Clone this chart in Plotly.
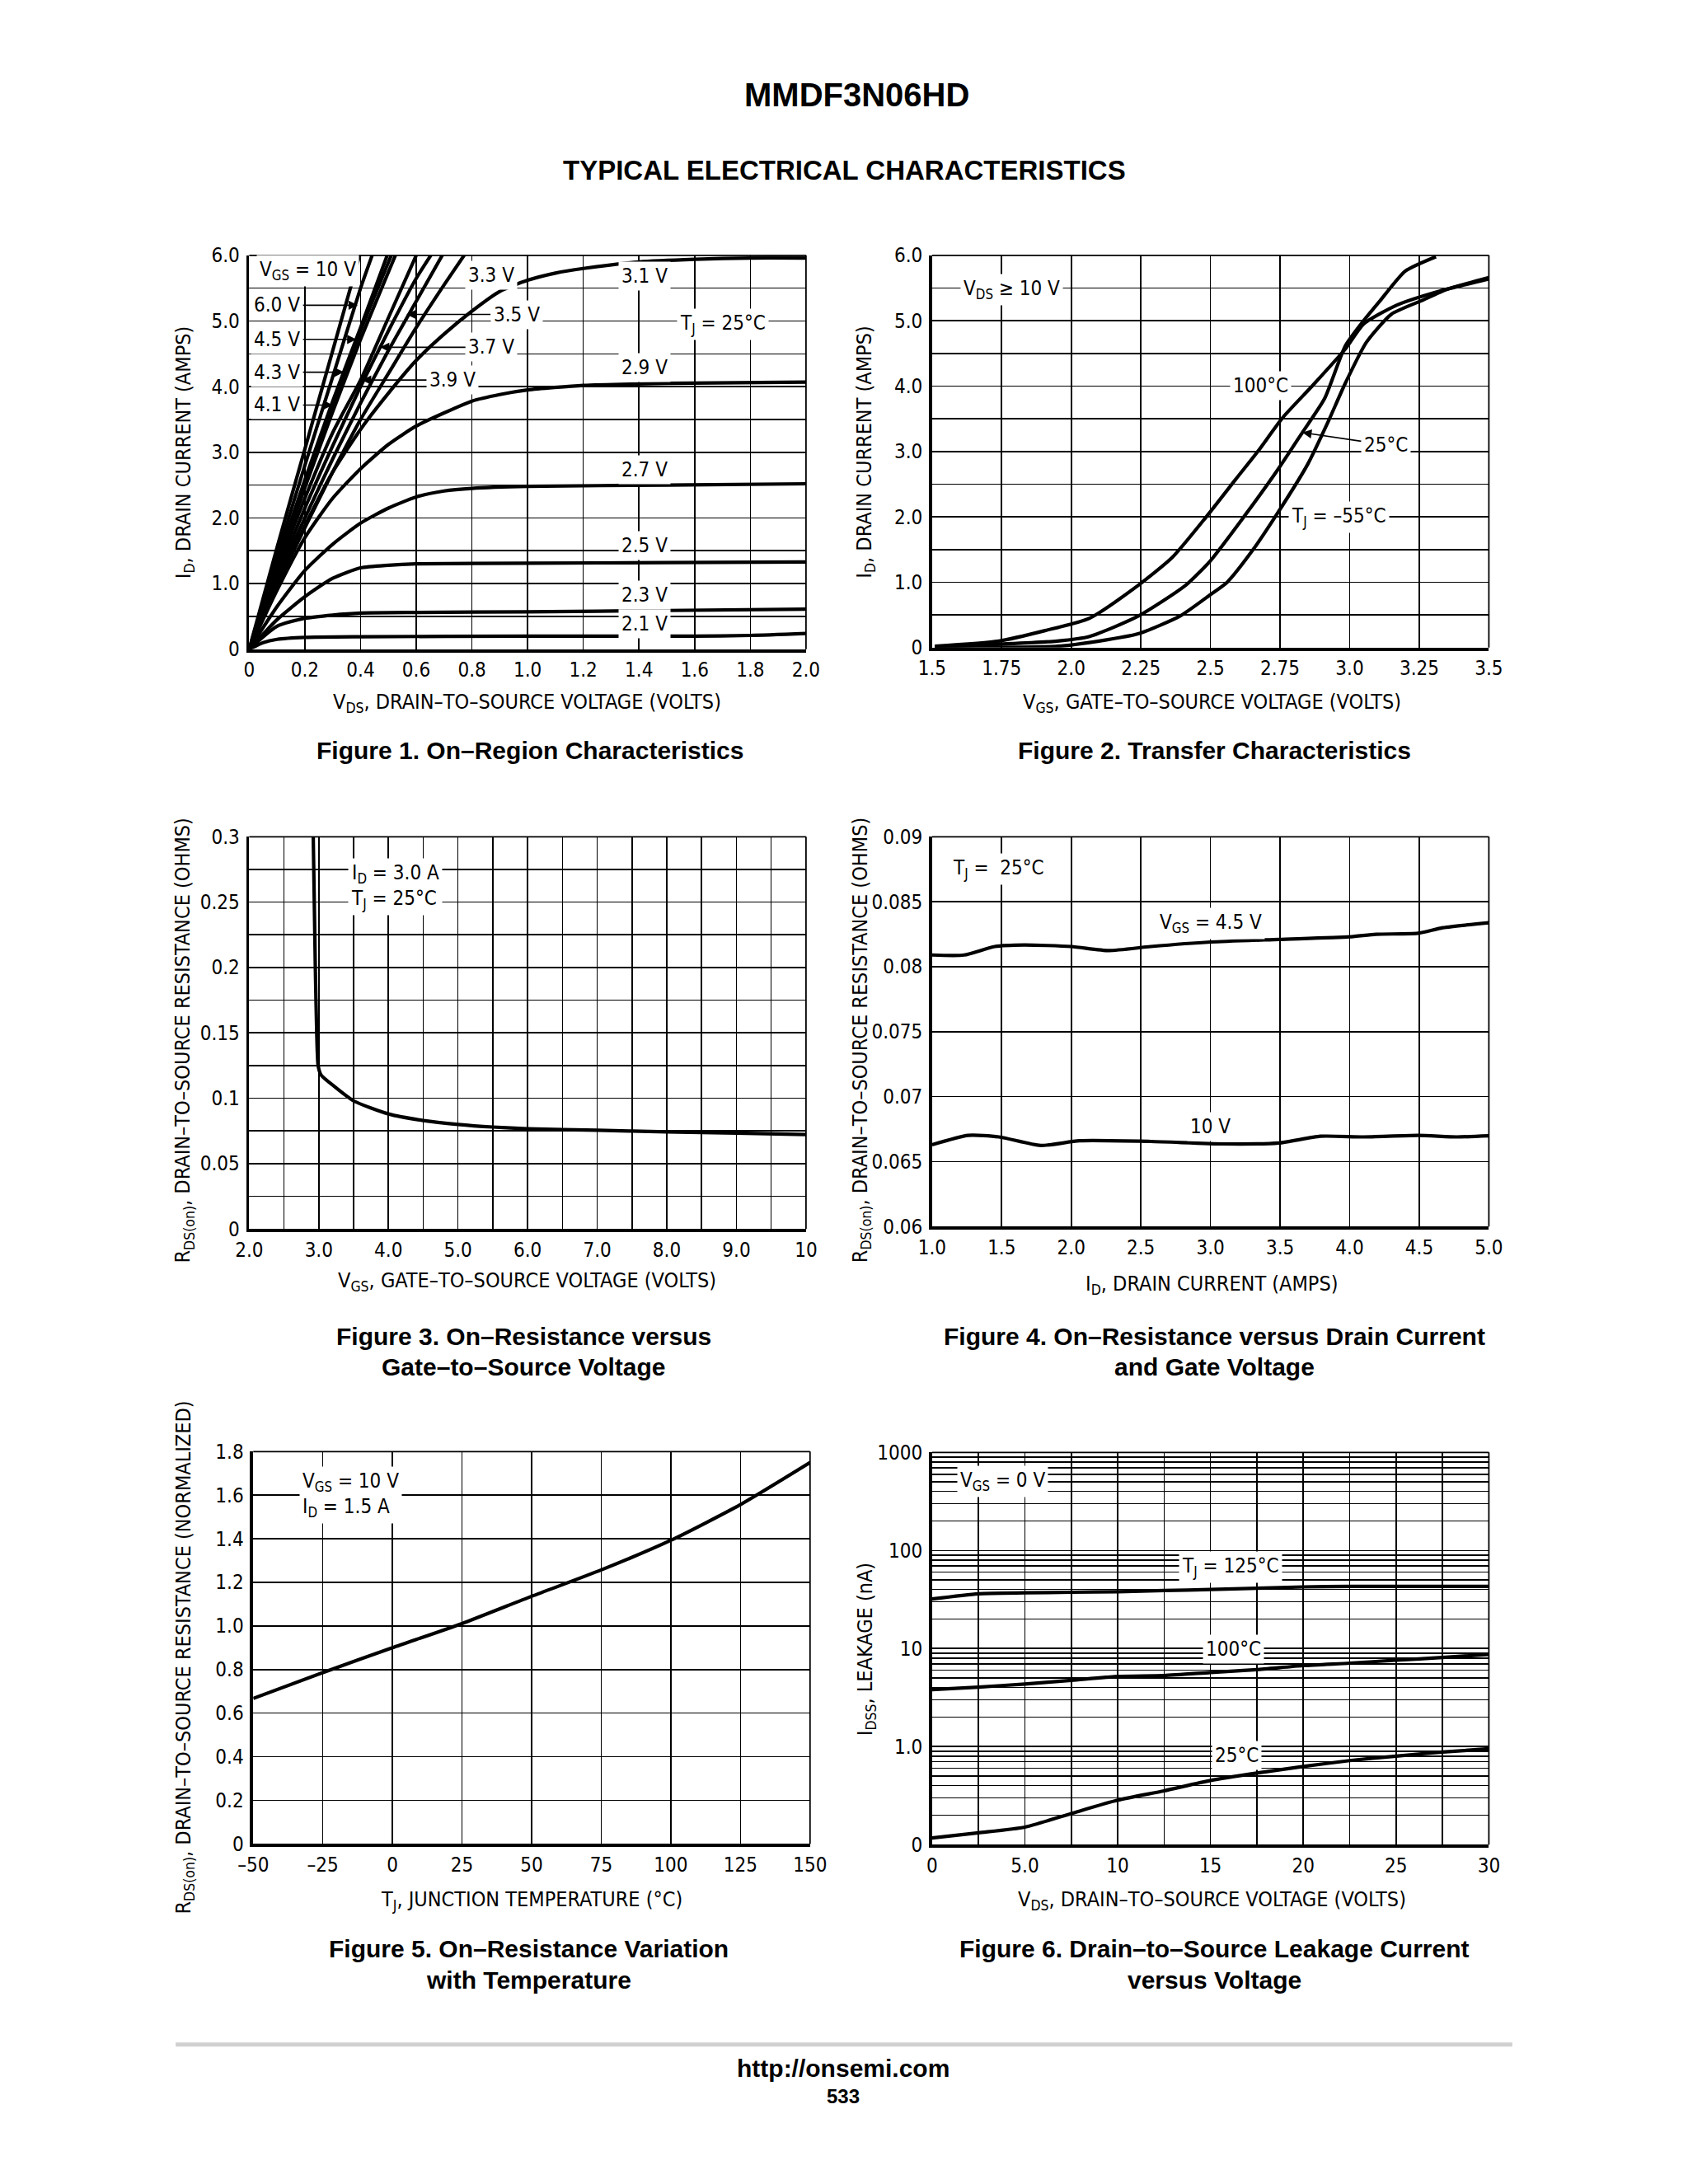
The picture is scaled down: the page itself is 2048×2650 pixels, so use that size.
import math
import plotly.graph_objects as go

W, H = 2048, 2650
FONT = "Liberation Sans Narrow, DejaVu Sans Condensed, Arial Narrow, Liberation Sans, sans-serif"
BOLD = "Liberation Sans, Arial, Helvetica, sans-serif"

# ---------------- Figure 1 data: On-Region Characteristics ----------------
f1_vds_10v = [0, 0.1, 0.2, 0.3, 0.4]
f1_id_10v = [0, 1.55, 3.05, 4.55, 6.05]
f1_vds_6v = [0, 0.1, 0.2, 0.3, 0.4, 0.45]
f1_id_6v = [0, 1.42, 2.8, 4.15, 5.5, 6.1]
f1_vds_45v = [0, 0.1, 0.2, 0.3, 0.4, 0.5]
f1_id_45v = [0, 1.32, 2.58, 3.78, 4.9, 6.05]
f1_vds_43v = [0, 0.1, 0.2, 0.3, 0.4, 0.52]
f1_id_43v = [0, 1.3, 2.52, 3.7, 4.85, 6.1]
f1_vds_41v = [0, 0.1, 0.2, 0.3, 0.4, 0.53]
f1_id_41v = [0, 1.26, 2.46, 3.62, 4.72, 6.05]
f1_vds_39v = [0, 0.1, 0.2, 0.3, 0.4, 0.5, 0.6]
f1_id_39v = [0, 1.2, 2.3, 3.3, 4.1, 5.05, 6.0]
f1_vds_37v = [0, 0.1, 0.2, 0.3, 0.4, 0.5, 0.6, 0.66]
f1_id_37v = [0, 1.12, 2.15, 3.1, 4.0, 4.85, 5.65, 6.05]
f1_vds_35v = [0, 0.1, 0.2, 0.3, 0.4, 0.5, 0.6, 0.7]
f1_id_35v = [0, 1.05, 2.0, 2.9, 3.75, 4.55, 5.3, 6.05]
f1_vds_33v = [0, 0.1, 0.2, 0.3, 0.4, 0.5, 0.6, 0.7, 0.78]
f1_id_33v = [0, 0.97, 1.85, 2.7, 3.5, 4.2, 4.9, 5.55, 6.05]
f1_vds_31v = [0, 0.1, 0.2, 0.3, 0.4, 0.5, 0.6, 0.7, 0.8, 0.9, 1.0, 1.1, 1.2, 1.4, 1.6, 1.8, 2.0]
f1_id_31v = [0, 0.98, 1.88, 2.7, 3.35, 3.9, 4.4, 4.8, 5.15, 5.45, 5.62, 5.73, 5.8, 5.9, 5.94, 5.96, 5.96]
f1_vds_29v = [0, 0.1, 0.2, 0.3, 0.4, 0.5, 0.6, 0.7, 0.8, 0.9, 1.0, 1.2, 1.5, 2.0]
f1_id_29v = [0, 0.9, 1.7, 2.3, 2.75, 3.12, 3.4, 3.6, 3.78, 3.88, 3.95, 4.02, 4.05, 4.07]
f1_vds_27v = [0, 0.1, 0.2, 0.3, 0.4, 0.5, 0.6, 0.7, 0.8, 1.0, 1.5, 2.0]
f1_id_27v = [0, 0.65, 1.2, 1.6, 1.92, 2.15, 2.32, 2.41, 2.45, 2.48, 2.5, 2.52]
f1_vds_25v = [0, 0.1, 0.2, 0.3, 0.4, 0.5, 0.6, 1.0, 1.5, 2.0]
f1_id_25v = [0, 0.45, 0.8, 1.08, 1.24, 1.28, 1.3, 1.31, 1.32, 1.33]
f1_vds_23v = [0, 0.1, 0.2, 0.3, 0.4, 0.6, 1.0, 1.5, 2.0]
f1_id_23v = [0, 0.35, 0.47, 0.52, 0.55, 0.56, 0.57, 0.59, 0.61]
f1_vds_21v = [0, 0.05, 0.1, 0.2, 0.4, 1.0, 1.6, 1.8, 2.0]
f1_id_21v = [0, 0.1, 0.15, 0.18, 0.19, 0.2, 0.2, 0.21, 0.24]

# ---------------- Figure 2 data: Transfer Characteristics ----------------
f2_vgs_100c = [1.51, 1.74, 1.906, 2.066, 2.24, 2.363, 2.485, 2.59, 2.67, 2.76, 2.865, 2.985, 3.05, 3.17, 3.32, 3.5]
f2_id_100c = [0.02, 0.1, 0.26, 0.45, 0.95, 1.38, 2.0, 2.57, 3.0, 3.52, 4.0, 4.57, 4.95, 5.24, 5.45, 5.64]
f2_vgs_25c = [1.51, 1.95, 2.066, 2.24, 2.41, 2.5, 2.62, 2.74, 2.83, 2.91, 2.985, 3.05, 3.11, 3.2, 3.31]
f2_id_25c = [0.01, 0.1, 0.17, 0.48, 0.95, 1.33, 2.0, 2.71, 3.29, 3.81, 4.62, 5.0, 5.31, 5.76, 5.98]
f2_vgs_m55c = [1.51, 1.95, 2.1, 2.24, 2.39, 2.5, 2.56, 2.65, 2.74, 2.85, 2.92, 2.985, 3.06, 3.15, 3.26, 3.35, 3.5]
f2_id_m55c = [0.0, 0.02, 0.1, 0.21, 0.48, 0.81, 1.0, 1.48, 2.05, 2.81, 3.43, 4.05, 4.67, 5.1, 5.31, 5.48, 5.66]

# ---------------- Figure 3 data: On-Resistance vs Gate-Source Voltage ----------------
f3_vgs = [2.92, 2.95, 2.97, 2.99, 3.03, 3.2, 3.5, 4.0, 4.5, 5.0, 5.5, 6.0, 7.0, 8.0, 9.0, 10.0]
f3_rds = [0.30, 0.2, 0.15, 0.125, 0.118, 0.11, 0.098, 0.088, 0.083, 0.080, 0.078, 0.0767, 0.0755, 0.0743, 0.0733, 0.0722]

# ---------------- Figure 4 data: On-Resistance vs Drain Current ----------------
f4_id_45v = [1.0, 1.23, 1.45, 1.66, 2.0, 2.27, 2.57, 3.0, 3.49, 4.0, 4.19, 4.49, 4.67, 5.0]
f4_rds_45v = [0.0809, 0.0809, 0.08155, 0.08167, 0.08155, 0.08124, 0.08155, 0.0819, 0.0821, 0.0823, 0.0825, 0.08257, 0.0830, 0.08338]
f4_id_10v = [1.0, 1.26, 1.48, 1.78, 2.06, 2.57, 3.09, 3.49, 3.79, 4.1, 4.49, 4.77, 5.0]
f4_rds_10v = [0.0663, 0.06702, 0.0669, 0.06624, 0.0666, 0.06655, 0.06636, 0.06643, 0.06695, 0.0669, 0.06702, 0.0669, 0.06698]

# ---------------- Figure 5 data: On-Resistance vs Temperature ----------------
f5_tj = [-50, -25, 0, 25, 50, 75, 100, 125, 150]
f5_rds = [0.667, 0.786, 0.9, 1.011, 1.136, 1.257, 1.393, 1.557, 1.75]

# ---------------- Figure 6 data: Drain-Source Leakage ----------------
f6_vds = [0, 2.5, 5, 7.5, 10, 12.5, 15, 17.5, 20, 22.5, 25, 27.5, 30]
f6_idss_125c = [32, 36.2, 37, 37.5, 38, 39, 40, 41.2, 42.5, 43, 43, 43, 43]
f6_idss_100c = [3.81, 4.04, 4.35, 4.74, 5.2, 5.3, 5.7, 6.1, 6.7, 7.1, 7.6, 8.1, 8.7]
f6_idss_25c = [0.117, 0.132, 0.151, 0.208, 0.284, 0.354, 0.451, 0.537, 0.627, 0.72, 0.80, 0.88, 0.95]

# ---------------- Tick labels (labelled ticks) and extra grid positions ----------------
f1_xticks = [0, 0.2, 0.4, 0.6, 0.8, 1.0, 1.2, 1.4, 1.6, 1.8, 2.0]
f1_xlabels = ["0", "0.2", "0.4", "0.6", "0.8", "1.0", "1.2", "1.4", "1.6", "1.8", "2.0"]
f1_yticks = [0, 1, 2, 3, 4, 5, 6]
f1_ylabels = ["0", "1.0", "2.0", "3.0", "4.0", "5.0", "6.0"]
f1_ygrid = [0.5, 1.5, 2.5, 3.5, 4.5, 5.5]
f2_xticks = [1.5, 1.75, 2.0, 2.25, 2.5, 2.75, 3.0, 3.25, 3.5]
f2_xlabels = ["1.5", "1.75", "2.0", "2.25", "2.5", "2.75", "3.0", "3.25", "3.5"]
f3_xticks = [2, 3, 4, 5, 6, 7, 8, 9, 10]
f3_xlabels = ["2.0", "3.0", "4.0", "5.0", "6.0", "7.0", "8.0", "9.0", "10"]
f3_xgrid = [2.5, 3.5, 4.5, 5.5, 6.5, 7.5, 8.5, 9.5]
f3_yticks = [0, 0.05, 0.1, 0.15, 0.2, 0.25, 0.3]
f3_ylabels = ["0", "0.05", "0.1", "0.15", "0.2", "0.25", "0.3"]
f3_ygrid = [0.025, 0.075, 0.125, 0.175, 0.225, 0.275]
f4_xticks = [1.0, 1.5, 2.0, 2.5, 3.0, 3.5, 4.0, 4.5, 5.0]
f4_xlabels = ["1.0", "1.5", "2.0", "2.5", "3.0", "3.5", "4.0", "4.5", "5.0"]
f4_yticks = [0.06, 0.065, 0.07, 0.075, 0.08, 0.085, 0.09]
f4_ylabels = ["0.06", "0.065", "0.07", "0.075", "0.08", "0.085", "0.09"]
f5_xticks = [-50, -25, 0, 25, 50, 75, 100, 125, 150]
f5_xlabels = ["\u201350", "\u201325", "0", "25", "50", "75", "100", "125", "150"]
f5_yticks = [0, 0.2, 0.4, 0.6, 0.8, 1.0, 1.2, 1.4, 1.6, 1.8]
f5_ylabels = ["0", "0.2", "0.4", "0.6", "0.8", "1.0", "1.2", "1.4", "1.6", "1.8"]
f6_xticks = [0, 5, 10, 15, 20, 25, 30]
f6_xlabels = ["0", "5.0", "10", "15", "20", "25", "30"]
f6_xgrid = [2.5, 7.5, 12.5, 17.5, 22.5, 27.5]
f6_yticks = [0.1, 1, 10, 100, 1000]
f6_ylabels = ["0", "1.0", "10", "100", "1000"]
f6_minor_multipliers = [2, 3, 4, 5, 6, 7, 8, 9]

# ---------------- layout helpers ----------------
def px(x):
    return x / W

def py(y):
    return 1 - y / H

def sid(i):
    return "" if i == 1 else str(i)

# plot boxes (left, top, right, bottom) in page pixels
boxes = {
    1: (289, 299, 978, 782),
    2: (1134, 299, 1823, 780),
    3: (289, 1012, 978, 1493),
    4: (1134, 1012, 1823, 1490),
    5: (294, 1766, 983, 2247),
    6: (1134, 1767, 1823, 2248),
}

fig = go.Figure()
LW = 4.2

def add_curve(i, xs, ys):
    fig.add_trace(go.Scatter(
        x=xs, y=ys, mode="lines", xaxis="x" + sid(i), yaxis="y" + sid(i),
        line=dict(color="black", width=LW, shape="spline", smoothing=0.6),
        showlegend=False, hoverinfo="skip"))

for xs, ys in [(f1_vds_10v, f1_id_10v), (f1_vds_6v, f1_id_6v), (f1_vds_45v, f1_id_45v),
               (f1_vds_43v, f1_id_43v), (f1_vds_41v, f1_id_41v), (f1_vds_39v, f1_id_39v),
               (f1_vds_37v, f1_id_37v), (f1_vds_35v, f1_id_35v), (f1_vds_33v, f1_id_33v),
               (f1_vds_31v, f1_id_31v), (f1_vds_29v, f1_id_29v), (f1_vds_27v, f1_id_27v),
               (f1_vds_25v, f1_id_25v), (f1_vds_23v, f1_id_23v), (f1_vds_21v, f1_id_21v)]:
    add_curve(1, xs, ys)
for xs, ys in [(f2_vgs_100c, f2_id_100c), (f2_vgs_25c, f2_id_25c), (f2_vgs_m55c, f2_id_m55c)]:
    add_curve(2, xs, ys)
add_curve(3, f3_vgs, f3_rds)
add_curve(4, f4_id_45v, f4_rds_45v)
add_curve(4, f4_id_10v, f4_rds_10v)
add_curve(5, f5_tj, f5_rds)
for ys in [f6_idss_125c, f6_idss_100c, f6_idss_25c]:
    add_curve(6, f6_vds, ys)

f6_ygrid = [d * m for d in f6_yticks[:-1] for m in f6_minor_multipliers]

axes_spec = {
    1: dict(xr=[0, 2.0], yr=[0, 6.0], xt=(f1_xticks, f1_xlabels), yt=(f1_yticks, f1_ylabels), yg=f1_ygrid),
    2: dict(xr=[1.5, 3.5], yr=[0, 6.0], xt=(f2_xticks, f2_xlabels), yt=(f1_yticks, f1_ylabels), yg=f1_ygrid),
    3: dict(xr=[2, 10], yr=[0, 0.3], xt=(f3_xticks, f3_xlabels), yt=(f3_yticks, f3_ylabels), xg=f3_xgrid, yg=f3_ygrid),
    4: dict(xr=[1.0, 5.0], yr=[0.06, 0.09], xt=(f4_xticks, f4_xlabels), yt=(f4_yticks, f4_ylabels)),
    5: dict(xr=[-50, 150], yr=[0, 1.8], xt=(f5_xticks, f5_xlabels), yt=(f5_yticks, f5_ylabels)),
    6: dict(xr=[0, 30], yr=[-1, 3], xt=(f6_xticks, f6_xlabels), yt=(f6_yticks, f6_ylabels), xg=f6_xgrid, yg=f6_ygrid, ylog=True),
}

GRID_W = 1.6
tickfont = dict(family=FONT, size=24, color="black")
layout = dict(width=W, height=H, margin=dict(l=0, r=0, t=0, b=0),
              paper_bgcolor="white", plot_bgcolor="white", showlegend=False)
shapes = []

def minor(vals):
    return dict(tickmode="array", tickvals=vals, showgrid=True, gridcolor="black",
                gridwidth=GRID_W, ticks="")

for i, spec in axes_spec.items():
    l, t, r, b = boxes[i]
    s = sid(i)
    xa = dict(domain=[px(l), px(r)], range=spec["xr"], anchor="y" + s,
              tickmode="array", tickvals=spec["xt"][0], ticktext=spec["xt"][1],
              showgrid=True, gridcolor="black", gridwidth=GRID_W, zeroline=False,
              showline=True, linecolor="black", linewidth=3.8, ticks="",
              ticklabelstandoff=1, tickfont=tickfont, fixedrange=True)
    ya = dict(domain=[py(b), py(t)], range=spec["yr"], anchor="x" + s,
              tickmode="array", tickvals=spec["yt"][0], ticktext=spec["yt"][1],
              showgrid=True, gridcolor="black", gridwidth=GRID_W, zeroline=False,
              showline=True, linecolor="black", linewidth=3.8, ticks="",
              ticklabelstandoff=3, tickfont=tickfont, fixedrange=True)
    if "xg" in spec:
        xa["minor"] = minor(spec["xg"])
    if "yg" in spec:
        ya["minor"] = minor(spec["yg"])
    if spec.get("ylog"):
        ya["type"] = "log"
    layout["xaxis" + s] = xa
    layout["yaxis" + s] = ya
    shapes.append(dict(type="line", xref="x" + s + " domain", yref="y" + s + " domain",
                       x0=0, x1=1, y0=1, y1=1, line=dict(color="black", width=1.8)))
    shapes.append(dict(type="line", xref="x" + s + " domain", yref="y" + s + " domain",
                       x0=1, x1=1, y0=0, y1=1, line=dict(color="black", width=1.8)))

# footer rule
shapes.append(dict(type="line", xref="paper", yref="paper", x0=px(198), x1=px(1852),
                   y0=py(2493), y1=py(2493), line=dict(color="#d0d0d0", width=5)))
layout["shapes"] = shapes

ann = []
LF = dict(family=FONT, size=24, color="black")

def lab(i, text, x, y, tip=None, font=LF, align="center"):
    s = sid(i)
    d = dict(text=text, xref="x" + s, yref="y" + s, font=font, bgcolor="white",
             borderpad=3, align=align)
    if tip is None:
        d.update(x=x, y=y, showarrow=False)
    else:
        d.update(x=tip[0], y=tip[1], ax=x, ay=y, axref="x" + s, ayref="y" + s,
                 showarrow=True, arrowhead=2, arrowsize=1.4, arrowwidth=1.6,
                 arrowcolor="black", standoff=0, startstandoff=0)
    ann.append(d)

# Figure 1 labels
lab(1, "V<sub>GS</sub> = 10 V", 0.21, 5.76)
lab(1, "6.0 V", 0.1, 5.24, tip=(0.39, 5.24))
lab(1, "4.5 V", 0.1, 4.72, tip=(0.385, 4.72))
lab(1, "4.3 V", 0.1, 4.22, tip=(0.34, 4.22))
lab(1, "4.1 V", 0.1, 3.72, tip=(0.30, 3.72))
lab(1, "3.3 V", 0.87, 5.7)
lab(1, "3.5 V", 0.96, 5.1, tip=(0.565, 5.1))
lab(1, "3.7 V", 0.87, 4.6, tip=(0.47, 4.6))
lab(1, "3.9 V", 0.73, 4.1, tip=(0.405, 4.1))
lab(1, "3.1 V", 1.42, 5.68)
lab(1, "2.9 V", 1.42, 4.29)
lab(1, "2.7 V", 1.42, 2.74)
lab(1, "2.5 V", 1.42, 1.58)
lab(1, "2.3 V", 1.42, 0.83)
lab(1, "2.1 V", 1.42, 0.38)
lab(1, "T<sub>J</sub> = 25\u00b0C", 1.70, 4.95)
# Figure 2 labels
lab(2, "V<sub>DS</sub> \u2265 10 V", 1.785, 5.48)
lab(2, "100\u00b0C", 2.68, 4.0)
lab(2, "25\u00b0C", 3.13, 3.1, tip=(2.83, 3.29))
lab(2, "T<sub>J</sub> = \u201355\u00b0C", 2.96, 2.0)
# Figure 3 labels
lab(3, "I<sub>D</sub> = 3.0 A<br>T<sub>J</sub> = 25\u00b0C", 4.1, 0.262, align="left")
# Figure 4 labels
lab(4, "T<sub>J</sub> =  25\u00b0C", 1.48, 0.0875)
lab(4, "V<sub>GS</sub> = 4.5 V", 3.0, 0.0833)
lab(4, "10 V", 3.0, 0.0677)
# Figure 5 labels
lab(5, "V<sub>GS</sub> = 10 V<br>I<sub>D</sub> = 1.5 A", -15, 1.6, align="left")
# Figure 6 labels (log axis -> log10 positions)
lab(6, "V<sub>GS</sub> = 0 V", 3.8, math.log10(510))
lab(6, "T<sub>J</sub> = 125\u00b0C", 16.1, math.log10(68))
lab(6, "100\u00b0C", 16.25, math.log10(9.9))
lab(6, "25\u00b0C", 16.4, math.log10(0.82))

AF = dict(family=FONT, size=25, color="black")

def page_text(text, x, y, font, angle=0):
    ann.append(dict(text=text, xref="paper", yref="paper", x=px(x), y=py(y),
                    xanchor="center", yanchor="middle", showarrow=False,
                    font=font, textangle=angle))

# axis titles
page_text("V<sub>DS</sub>, DRAIN\u2013TO\u2013SOURCE VOLTAGE (VOLTS)", 633, 848, AF)
page_text("V<sub>GS</sub>, GATE\u2013TO\u2013SOURCE VOLTAGE (VOLTS)", 1480, 848, AF)
page_text("V<sub>GS</sub>, GATE\u2013TO\u2013SOURCE VOLTAGE (VOLTS)", 633, 1557, AF)
page_text("I<sub>D</sub>, DRAIN CURRENT (AMPS)", 1480, 1562, AF)
page_text("T<sub>J</sub>, JUNCTION TEMPERATURE (\u00b0C)", 638, 2316, AF)
page_text("V<sub>DS</sub>, DRAIN\u2013TO\u2013SOURCE VOLTAGE (VOLTS)", 1480, 2316, AF)
page_text("I<sub>D</sub>, DRAIN CURRENT (AMPS)", 209, 540, AF, -90)
page_text("I<sub>D</sub>, DRAIN CURRENT (AMPS)", 1052, 540, AF, -90)
page_text("R<sub>DS(on)</sub>, DRAIN\u2013TO\u2013SOURCE RESISTANCE (OHMS)", 208, 1262, AF, -90)
page_text("R<sub>DS(on)</sub>, DRAIN\u2013TO\u2013SOURCE RESISTANCE (OHMS)", 1046, 1262, AF, -90)
page_text("R<sub>DS(on)</sub>, DRAIN\u2013TO\u2013SOURCE RESISTANCE (NORMALIZED)", 209, 2018, AF, -90)
page_text("I<sub>DSS</sub>, LEAKAGE (nA)", 1052, 2008, AF, -90)

# captions
CF = dict(family=BOLD, size=30, color="black", weight="bold")
page_text("Figure 1. On\u2013Region Characteristics", 636, 906, CF)
page_text("Figure 2. Transfer Characteristics", 1483, 906, CF)
page_text("Figure 3. On\u2013Resistance versus", 629, 1625, CF)
page_text("Gate\u2013to\u2013Source Voltage", 629, 1662, CF)
page_text("Figure 4. On\u2013Resistance versus Drain Current", 1483, 1625, CF)
page_text("and Gate Voltage", 1483, 1662, CF)
page_text("Figure 5. On\u2013Resistance Variation", 635, 2376, CF)
page_text("with Temperature", 635, 2414, CF)
page_text("Figure 6. Drain\u2013to\u2013Source Leakage Current", 1483, 2376, CF)
page_text("versus Voltage", 1483, 2414, CF)

# page header / footer
page_text("MMDF3N06HD", 1041, 102, dict(family=BOLD, size=40, color="black", weight="bold"))
page_text("TYPICAL ELECTRICAL CHARACTERISTICS", 1026, 195, dict(family=BOLD, size=33, color="black", weight="bold"))
page_text("http://onsemi.com", 1024, 2522, dict(family=BOLD, size=30, color="black", weight="bold"))
page_text("533", 1024, 2557, dict(family=BOLD, size=24, color="black", weight="bold"))

layout["annotations"] = ann
fig.update_layout(**layout)
fig.write_html("out.html", config={"displayModeBar": False, "staticPlot": True},
               post_script="document.body.style.margin='0';document.body.style.overflow='hidden';")
